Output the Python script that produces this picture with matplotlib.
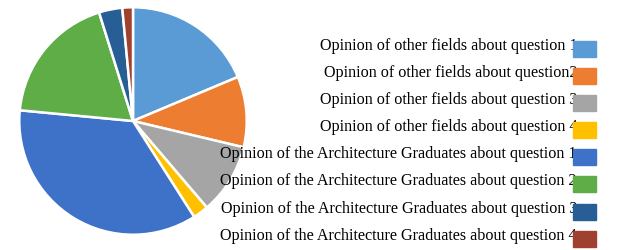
import matplotlib
matplotlib.use("Agg")
import matplotlib.pyplot as plt
from matplotlib.patches import Rectangle

plt.rcParams['font.family'] = ['Liberation Serif', 'DejaVu Serif']

# data
labels = [
    "Opinion of other fields about question 1",
    "Opinion of other fields about question2",
    "Opinion of other fields about question 3",
    "Opinion of other fields about question 4",
    "Opinion of the Architecture Graduates about question 1",
    "Opinion of the Architecture Graduates about question 2",
    "Opinion of the Architecture Graduates about question 3",
    "Opinion of the Architecture Graduates about question 4",
]
values = [18.6, 10.0, 10.0, 2.2, 35.4, 18.6, 3.3, 1.5]
colors = ['#5B9BD5', '#ED7D31', '#A5A5A5', '#FFC000',
          '#3E72C9', '#5FAD47', '#275E96', '#A0402E']

W, H = 643, 251
fig = plt.figure(figsize=(W / 100, H / 100), dpi=100)

# pie
ax = fig.add_axes([17 / W, 13 / H, 232 / W, 232 / H])
ax.pie(values, colors=colors, startangle=90, counterclock=False,
       wedgeprops=dict(edgecolor='white', linewidth=1.8))
ax.set_xlim(-1.02, 1.02)
ax.set_ylim(-1.02, 1.02)
ax.set_aspect('equal')

# legend (text right aligned, colour box on the right)
row_y = [50, 77, 104, 131, 158, 185, 213, 240]
for lab, col, y in zip(labels, colors, row_y):
    fig.text(577 / W, 1 - (y - 4) / H, lab, ha='right', va='center', fontsize=11.6)
    fig.add_artist(Rectangle((573 / W, 1 - (y + 8) / H), 23 / W, 16 / H,
                             transform=fig.transFigure, color=col, zorder=5))

fig.savefig("out.png", dpi=100)
